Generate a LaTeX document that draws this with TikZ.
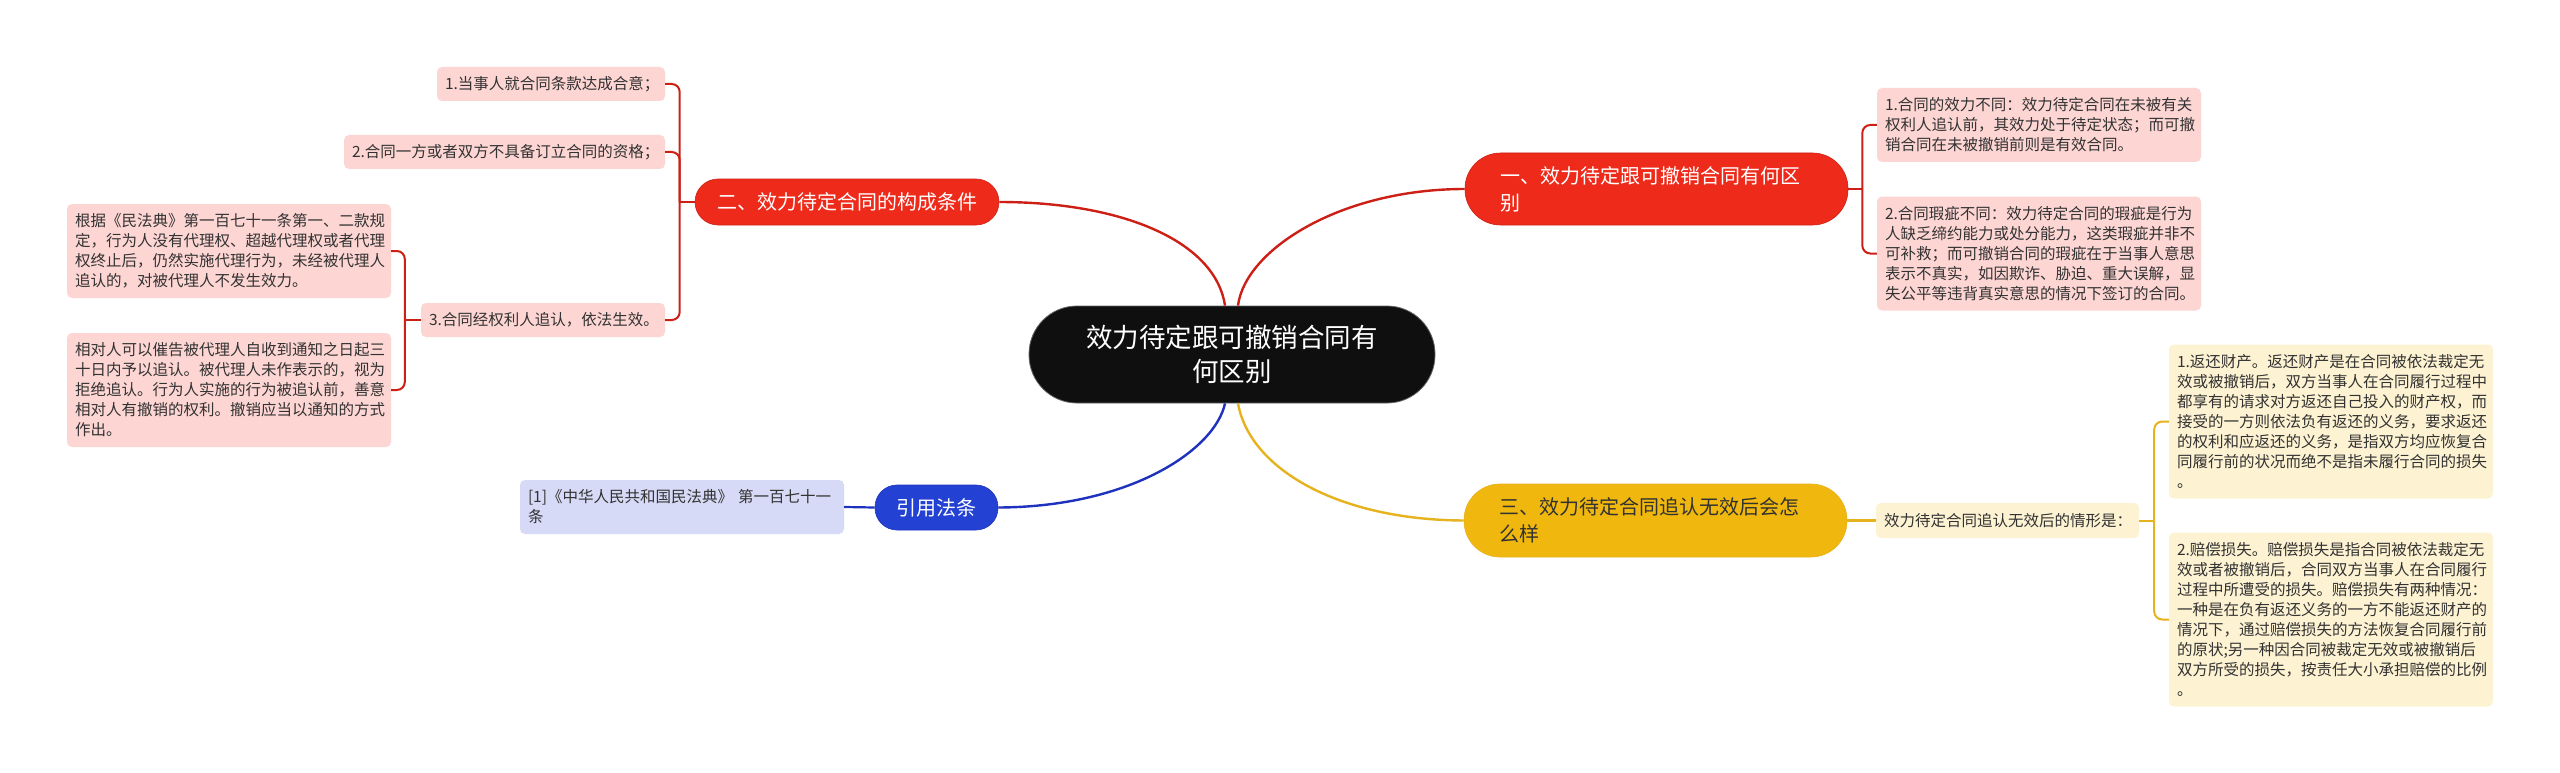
\documentclass[tikz,border=0pt]{standalone}
\usepackage{fontspec}
\setmainfont{Noto Sans CJK SC}
\definecolor{pillred}{RGB}{238,43,27}
\definecolor{linered}{RGB}{204,32,22}
\definecolor{pinkbg}{RGB}{253,214,212}
\definecolor{pillyel}{RGB}{240,184,14}
\definecolor{lineyel}{RGB}{230,178,30}
\definecolor{creambg}{RGB}{253,242,210}
\definecolor{pillblue}{RGB}{35,65,210}
\definecolor{lineblue}{RGB}{30,50,190}
\definecolor{lavbg}{RGB}{214,218,246}
\definecolor{centerbg}{RGB}{15,15,15}
\definecolor{txt}{RGB}{50,50,50}
\begin{document}
\begin{tikzpicture}[x=1pt,y=-1pt,
  box/.style={rounded corners=5pt, inner xsep=8pt, inner ysep=0pt, align=left,
    font=\fontsize{15.5}{20}\selectfont, text=txt},
  pill/.style={inner xsep=0pt, inner ysep=0pt, font=\fontsize{20}{27}\selectfont},
  curve/.style={line width=2.4pt},
  brk/.style={line width=2pt, rounded corners=8pt}
]
\useasboundingbox[fill=white] (0,0) rectangle (2560,773);

% center
\node[fill=centerbg, draw=black!60, line width=0.8pt, rounded corners=48pt,
  minimum width=406pt, minimum height=97pt, inner sep=0pt, align=center,
  text=white, font=\fontsize{26.5}{34}\selectfont] (c) at (1232,354.5)
  {效力待定跟可撤销合同有\\何区别};

% branch pills
\node[pill, fill=pillred, draw=linered, line width=0.6pt, rounded corners=23pt,
  minimum width=304pt, minimum height=46pt, text=white] (n2) at (847,202)
  {二、效力待定合同的构成条件};
\node[pill, fill=pillred, draw=linered, line width=0.6pt, rounded corners=35.5pt,
  minimum width=383pt, minimum height=72pt, text width=313pt, align=left, text=white] (n1) at (1656.5,189)
  {一、效力待定跟可撤销合同有何区\\别};
\node[pill, fill=pillyel, draw=lineyel, line width=0.6pt, rounded corners=36pt,
  minimum width=383pt, minimum height=73pt, text width=313pt, align=left, text=txt] (n3) at (1655.5,520.5)
  {三、效力待定合同追认无效后会怎\\么样};
\node[pill, fill=pillblue, draw=lineblue, line width=0.6pt, rounded corners=22pt,
  minimum width=123pt, minimum height=45pt, text=white] (n4) at (936.5,507.5)
  {引用法条};

% left boxes (branch 2)
\node[box, fill=pinkbg, text width=212pt, minimum height=34pt] (b1) at (551,84)
  {1.当事人就合同条款达成合意；};
\node[box, fill=pinkbg, text width=305pt, minimum height=34pt] (b2) at (504.5,152)
  {2.合同一方或者双方不具备订立合同的资格；};
\node[box, fill=pinkbg, text width=228pt, minimum height=34pt] (b3) at (543,320)
  {3.合同经权利人追认，依法生效。};
\node[box, fill=pinkbg, text width=308pt, minimum height=94pt] (b3a) at (229,251)
  {根据《民法典》第一百七十一条第一、二款规\\定，行为人没有代理权、超越代理权或者代理\\权终止后，仍然实施代理行为，未经被代理人\\追认的，对被代理人不发生效力。};
\node[box, fill=pinkbg, text width=308pt, minimum height=114pt] (b3b) at (229,390)
  {相对人可以催告被代理人自收到通知之日起三\\十日内予以追认。被代理人未作表示的，视为\\拒绝追认。行为人实施的行为被追认前，善意\\相对人有撤销的权利。撤销应当以通知的方式\\作出。};

% right boxes (branch 1)
\node[box, fill=pinkbg, text width=308pt, minimum height=74pt] (a1) at (2039,125)
  {1.合同的效力不同：效力待定合同在未被有关\\权利人追认前，其效力处于待定状态；而可撤\\销合同在未被撤销前则是有效合同。};
\node[box, fill=pinkbg, text width=308pt, minimum height=114pt] (a2) at (2039,253.5)
  {2.合同瑕疵不同：效力待定合同的瑕疵是行为\\人缺乏缔约能力或处分能力，这类瑕疵并非不\\可补救；而可撤销合同的瑕疵在于当事人意思\\表示不真实，如因欺诈、胁迫、重大误解，显\\失公平等违背真实意思的情况下签订的合同。};

% branch 3 boxes
\node[box, fill=creambg, text width=247pt, minimum height=35pt] (c0) at (2007.5,520.5)
  {效力待定合同追认无效后的情形是：};
\node[box, fill=creambg, text width=308pt, minimum height=154pt] (c1) at (2331,421.5)
  {1.返还财产。返还财产是在合同被依法裁定无\\效或被撤销后，双方当事人在合同履行过程中\\都享有的请求对方返还自己投入的财产权，而\\接受的一方则依法负有返还的义务，要求返还\\的权利和应返还的义务，是指双方均应恢复合\\同履行前的状况而绝不是指未履行合同的损失\\。};
\node[box, fill=creambg, text width=308pt, minimum height=174pt] (c2) at (2331,619.5)
  {2.赔偿损失。赔偿损失是指合同被依法裁定无\\效或者被撤销后，合同双方当事人在合同履行\\过程中所遭受的损失。赔偿损失有两种情况：\\一种是在负有返还义务的一方不能返还财产的\\情况下，通过赔偿损失的方法恢复合同履行前\\的原状;另一种因合同被裁定无效或被撤销后\\双方所受的损失，按责任大小承担赔偿的比例\\。};

% reference box
\node[box, fill=lavbg, text width=308pt, minimum height=54pt] (d1) at (682,507)
  {[1]《中华人民共和国民法典》 第一百七十一\\条};

% center connectors
\coordinate (cTL) at ([xshift=-7pt]c.north);
\coordinate (cTR) at ([xshift=6pt]c.north);
\coordinate (cBL) at ([xshift=-7pt]c.south);
\coordinate (cBR) at ([xshift=6pt]c.south);
\draw[curve, linered] (cTL) .. controls (1215,240) and (1120,202) .. (n2.east);
\draw[curve, linered] (cTR) .. controls (1245,250) and (1340,189) .. (n1.west);
\draw[curve, lineblue] (cBL) .. controls (1215,450) and (1130,507) .. (n4.east);
\draw[curve, lineyel] (cBR) .. controls (1250,470) and (1340,520) .. (n3.west);

% branch 2 brackets
\draw[line width=2pt, linered] (n2.west) -- ++(-15,0) coordinate (j2);
\draw[brk, linered] (j2) |- (b1.east);
\draw[brk, linered] (j2) |- (b2.east);
\draw[brk, linered] (j2) |- (b3.east);
\draw[line width=2pt, linered] (b3.west) -- ++(-16,0) coordinate (j3);
\draw[brk, linered] (j3) |- (b3a.east);
\draw[brk, linered] (j3) |- (b3b.east);

% branch 1 brackets
\draw[line width=2pt, linered] (n1.east) -- ++(14,0) coordinate (j1);
\draw[brk, linered] (j1) |- (a1.west);
\draw[brk, linered] (j1) |- (a2.west);

% branch 3
\draw[line width=2.2pt, lineyel] (n3.east) -- (c0.west);
\draw[line width=2pt, lineyel] (c0.east) -- ++(15,0) coordinate (jc);
\draw[brk, lineyel] (jc) |- (c1.west);
\draw[brk, lineyel] (jc) |- (c2.west);

% reference
\draw[line width=2.2pt, lineblue] (n4.west) -- (d1.east);
\end{tikzpicture}
\end{document}
